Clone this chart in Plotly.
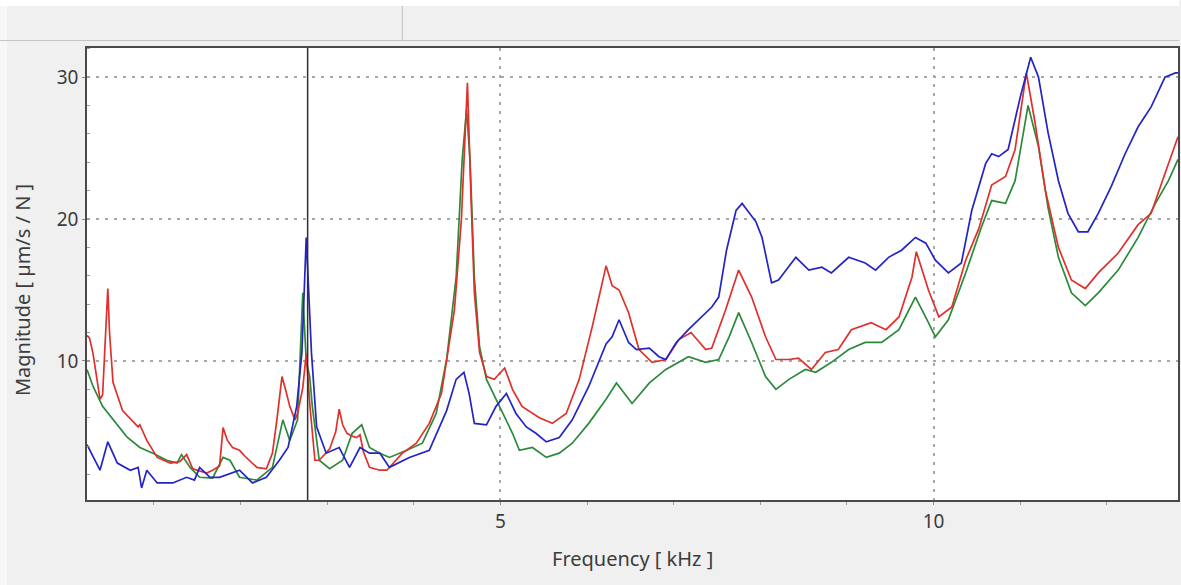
import plotly.graph_objects as go

# Frequency response magnitudes, three measurement points (kHz, µm/s/N)
red_freq = [0.23, 0.26, 0.30, 0.38, 0.41, 0.45, 0.47, 0.49, 0.53, 0.64, 0.82, 0.84, 0.92, 1.04, 1.19,
            1.30, 1.38, 1.45, 1.61, 1.68, 1.76, 1.80, 1.85, 1.91, 1.99, 2.05, 2.19, 2.30, 2.37, 2.42,
            2.48, 2.52, 2.57, 2.63, 2.66, 2.72, 2.76, 2.80, 2.86, 2.91, 3.03, 3.10, 3.14, 3.18, 3.23,
            3.29, 3.34, 3.38, 3.42, 3.49, 3.61, 3.69, 3.80, 3.87, 4.03, 4.18, 4.32, 4.41, 4.47, 4.55,
            4.62, 4.66, 4.70, 4.76, 4.84, 4.93, 5.05, 5.14, 5.25, 5.45, 5.60, 5.76, 5.91, 6.06, 6.22,
            6.29, 6.37, 6.48, 6.60, 6.75, 6.91, 7.06, 7.20, 7.37, 7.44, 7.60, 7.75, 7.90, 8.06, 8.18,
            8.33, 8.44, 8.59, 8.75, 8.90, 9.05, 9.28, 9.45, 9.60, 9.75, 9.80, 9.94, 10.06, 10.21, 10.37,
            10.52, 10.67, 10.83, 10.94, 11.07, 11.17, 11.29, 11.44, 11.59, 11.75, 11.90, 12.13, 12.36,
            12.51, 12.67, 12.82]
red_mag = [11.8, 11.6, 10.5, 7.3, 7.6, 12.5, 15.1, 12.0, 8.5, 6.5, 5.35, 5.5, 4.4, 3.2, 2.8,
           2.9, 3.4, 2.4, 2.1, 2.3, 2.6, 5.3, 4.4, 3.9, 3.7, 3.3, 2.5, 2.4, 3.5, 5.8,
           8.9, 8.0, 6.8, 5.85, 6.3, 8.1, 10.5, 7.0, 3.0, 3.0, 3.8, 5.0, 6.6, 5.5, 4.9,
           4.7, 4.6, 4.8, 3.6, 2.5, 2.3, 2.3, 3.0, 3.5, 4.2, 5.6, 7.7, 11.3, 13.6, 19.9,
           29.6, 21.8, 14.8, 10.6, 8.9, 8.7, 9.5, 8.0, 6.8, 6.0, 5.6, 6.3, 8.7, 12.4, 16.7,
           15.3, 15.0, 13.4, 10.8, 9.9, 10.1, 11.5, 12.0, 10.8, 10.9, 13.6, 16.4, 14.5, 11.7, 10.1,
           10.1, 10.2, 9.4, 10.6, 10.8, 12.2, 12.7, 12.2, 13.1, 15.9, 17.7, 15.0, 13.1, 13.8, 17.1,
           19.3, 22.4, 23.0, 24.9, 30.3, 26.8, 22.0, 18.0, 15.7, 15.1, 16.2, 17.6, 19.6,
           20.4, 23.2, 25.8]

green_freq = [0.23, 0.30, 0.41, 0.53, 0.69, 0.84, 0.99, 1.15, 1.27, 1.32, 1.42, 1.53, 1.68, 1.80, 1.88,
              1.99, 2.19, 2.37, 2.49, 2.57, 2.66, 2.72, 2.76, 2.80, 2.83, 2.91, 3.03, 3.18, 3.29, 3.40,
              3.49, 3.61, 3.72, 3.92, 4.10, 4.26, 4.38, 4.49, 4.56, 4.61, 4.65, 4.70, 4.76, 4.84, 4.95,
              5.02, 5.14, 5.22, 5.37, 5.53, 5.68, 5.83, 6.02, 6.22, 6.34, 6.52, 6.72, 6.91, 7.17, 7.37,
              7.52, 7.64, 7.75, 7.90, 8.06, 8.18, 8.33, 8.52, 8.64, 8.82, 9.02, 9.21, 9.40, 9.60, 9.79,
              9.94, 10.02, 10.17, 10.37, 10.55, 10.67, 10.83, 10.94, 11.09, 11.21, 11.32, 11.44, 11.59,
              11.75, 11.90, 12.13, 12.36, 12.56, 12.71, 12.82]
green_mag = [9.4, 8.2, 6.8, 5.85, 4.65, 3.9, 3.5, 3.0, 2.8, 3.4, 2.5, 1.8, 1.75, 3.2, 3.0,
             1.8, 1.6, 2.5, 5.85, 4.4, 5.85, 14.8, 10.0, 8.9, 6.8, 3.0, 2.4, 3.0, 4.9, 5.5,
             3.9, 3.5, 3.2, 3.7, 4.2, 6.3, 10.1, 15.9, 24.2, 27.7, 24.2, 15.9, 11.0, 8.7, 7.3,
             6.5, 4.9, 3.7, 3.9, 3.2, 3.5, 4.2, 5.6, 7.3, 8.45, 7.0, 8.45, 9.4, 10.3, 9.9,
             10.1, 11.7, 13.4, 11.3, 8.9, 8.0, 8.7, 9.4, 9.2, 9.9, 10.8, 11.3, 11.3, 12.2, 14.5,
             12.7, 11.7, 12.9, 16.2, 19.4, 21.3, 21.1, 22.7, 28.0, 25.1, 20.8, 17.3, 14.8,
             13.9, 14.8, 16.4, 18.7, 21.1, 22.7, 24.2]

blue_freq = [0.23, 0.38, 0.47, 0.58, 0.73, 0.82, 0.86, 0.92, 1.04, 1.22, 1.38, 1.47, 1.53, 1.65, 1.76,
             1.91, 1.99, 2.14, 2.30, 2.45, 2.55, 2.65, 2.71, 2.76, 2.82, 2.88, 2.99, 3.14, 3.26, 3.38,
             3.49, 3.61, 3.72, 3.95, 4.18, 4.38, 4.49, 4.58, 4.64, 4.70, 4.84, 4.95, 5.07, 5.18, 5.30,
             5.41, 5.53, 5.68, 5.83, 6.02, 6.22, 6.29, 6.37, 6.48, 6.57, 6.72, 6.83, 6.91, 7.03, 7.17,
             7.29, 7.44, 7.52, 7.61, 7.72, 7.79, 7.95, 8.02, 8.13, 8.21, 8.41, 8.56, 8.71, 8.82, 9.02,
             9.21, 9.33, 9.48, 9.63, 9.79, 9.91, 10.02, 10.17, 10.32, 10.44, 10.60, 10.67, 10.75, 10.86,
             11.00, 11.12, 11.21, 11.32, 11.44, 11.55, 11.67, 11.78, 11.90, 12.05, 12.21, 12.36, 12.51,
             12.67, 12.79, 12.82]
blue_mag = [4.1, 2.3, 4.3, 2.8, 2.3, 2.5, 1.05, 2.3, 1.4, 1.4, 1.8, 1.6, 2.5, 1.8, 1.8,
            2.1, 2.3, 1.4, 1.8, 3.0, 3.9, 6.8, 10.6, 18.7, 10.6, 5.35, 3.5, 3.9, 2.5, 3.9,
            3.5, 3.5, 2.5, 3.2, 3.7, 6.5, 8.7, 9.2, 7.7, 5.6, 5.5, 6.8, 7.7, 6.3, 5.35,
            4.9, 4.3, 4.6, 5.85, 8.2, 11.2, 11.7, 12.9, 11.3, 10.8, 10.9, 10.3, 10.1, 11.3, 12.2,
            12.9, 13.8, 14.5, 17.8, 20.6, 21.1, 19.8, 18.7, 15.5, 15.7, 17.3, 16.4, 16.6, 16.2, 17.3,
            16.9, 16.4, 17.3, 17.8, 18.7, 18.3, 17.1, 16.2, 16.9, 20.6, 23.9, 24.6, 24.4, 24.9,
            28.6, 31.4, 30.0, 26.1, 22.7, 20.4, 19.1, 19.1, 20.4, 22.3, 24.6, 26.5, 27.9,
            30.0, 30.3, 30.3]

cursor_freq = 2.776
x_range = [0.23, 12.82]
y_range = [0.2, 32.05]
x_major = [5, 10]
y_major = [10, 20, 30]

series = [
    ("green", green_freq, green_mag, "#2b8a3a"),
    ("red", red_freq, red_mag, "#e0302c"),
    ("blue", blue_freq, blue_mag, "#2424c4"),
]

fig = go.Figure()
for name, fx, fy, col in series:
    fig.add_trace(go.Scatter(x=fx, y=fy, mode="lines", name=name,
                             line=dict(color=col, width=1.7), showlegend=False))

# cursor line
fig.add_shape(type="line", xref="x", yref="paper", x0=cursor_freq, x1=cursor_freq, y0=0, y1=1,
              line=dict(color="#303030", width=1.5), layer="above")

# toolbar strip above the chart
W, H = 1181, 585
L, R, T, B = 87, 1180, 48, 500
def px(xp):
    return (xp - L) / (R - L)
def py(yp):
    return (B - yp) / (B - T)

fig.add_shape(type="rect", xref="paper", yref="paper", x0=px(0), x1=px(W), y0=py(6), y1=py(0),
              line=dict(width=0), fillcolor="#ffffff", layer="below")
fig.add_shape(type="line", xref="paper", yref="paper", x0=px(0), x1=px(W), y0=py(40.5), y1=py(40.5),
              line=dict(color="#c4c4c4", width=1.2))
fig.add_shape(type="line", xref="paper", yref="paper", x0=px(403), x1=px(403), y0=py(6), y1=py(40),
              line=dict(color="#c8c8c8", width=1.2))
fig.add_shape(type="rect", xref="paper", yref="paper", x0=px(0), x1=px(7), y0=py(W), y1=py(6),
              line=dict(width=0), fillcolor="#f7f7f7", layer="below")

tick_font = dict(family="Noto Sans, Open Sans, sans-serif", size=19, color="#3c3c3c")
title_font = dict(family="Noto Sans, Open Sans, sans-serif", size=20, color="#3c3c3c")

fig.update_xaxes(range=x_range, tickvals=x_major, ticktext=[str(v) for v in x_major],
                 showgrid=True, gridcolor="#a8a8a8", griddash="3px,6px", gridwidth=1.5,
                 showline=True, linecolor="#4a4a4a", linewidth=1.5, mirror=True,
                 ticks="outside", ticklen=3, tickcolor="#8a8a8a",
                 minor=dict(dtick=1, ticks="outside", ticklen=3, tickcolor="#9a9a9a", showgrid=False),
                 zeroline=False, tickfont=tick_font)
fig.update_yaxes(range=y_range, tickvals=y_major, ticktext=[str(v) for v in y_major],
                 showgrid=True, gridcolor="#a8a8a8", griddash="3px,6px", gridwidth=1.5,
                 showline=True, linecolor="#4a4a4a", linewidth=1.5, mirror=True,
                 ticks="outside", ticklen=3, tickcolor="#8a8a8a",
                 minor=dict(dtick=2, ticks="inside", ticklen=3, tickcolor="#9a9a9a", showgrid=False),
                 zeroline=False, tickfont=tick_font)

fig.add_annotation(text="Magnitude [ µm/s / N ]", xref="paper", yref="paper",
                   x=px(22), y=py(290), textangle=-90, showarrow=False,
                   font=title_font, xanchor="center", yanchor="middle")
fig.add_annotation(text="Frequency [ kHz ]", xref="paper", yref="paper",
                   x=px(633), y=py(558), showarrow=False,
                   font=title_font, xanchor="center", yanchor="middle")

fig.update_layout(width=W, height=H,
                  margin=dict(l=L, r=W - R, t=T, b=H - B),
                  paper_bgcolor="#f0f0f0", plot_bgcolor="#ffffff")

fig.write_html("out.html")
